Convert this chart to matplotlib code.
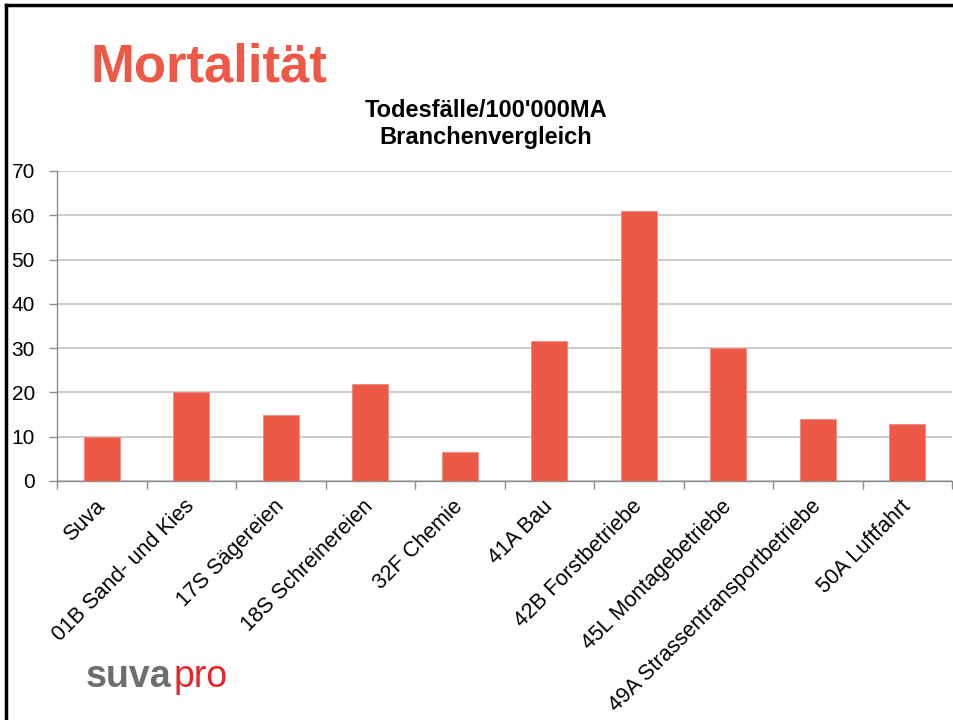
import matplotlib.pyplot as plt
from matplotlib.lines import Line2D
import numpy as np

plt.rcParams['font.family'] = ['Liberation Sans', 'DejaVu Sans']

categories = ["Suva", "01B Sand- und Kies", "17S Sägereien", "18S Schreinereien",
              "32F Chemie", "41A Bau", "42B Forstbetriebe", "45L Montagebetriebe",
              "49A Strassentransportbetriebe", "50A Luftfahrt"]
values = [10.0, 20.0, 14.8, 22.0, 6.6, 31.6, 60.9, 30.0, 13.9, 12.9]
yticks = [0, 10, 20, 30, 40, 50, 60, 70]

red = "#EE5846"
W, H = 954, 720

fig = plt.figure(figsize=(W / 100, H / 100), dpi=100)
ax = fig.add_axes([57 / W, 1 - 481 / H, (952 - 57) / W, (481 - 171) / H])

x = np.arange(len(categories))
ax.bar(x, values, width=0.4, color=red, edgecolor="#F28A7E", linewidth=0.6, zorder=3)

ax.set_xlim(-0.5, len(categories) - 0.5)
ax.set_ylim(0, 70)
ax.set_yticks(yticks)
ax.tick_params(axis="y", length=6, width=1, color="#8C8C8C", pad=10, labelsize=15)
ax.yaxis.grid(True, color="#C4C4C4", linewidth=1.2, zorder=0)

ax.set_xticks(x)
ax.set_xticklabels(categories, rotation=45, ha="right", va="center",
                   rotation_mode="anchor", fontsize=15.5)
ax.tick_params(axis="x", which="major", length=0, pad=16)
ax.set_xticks(np.arange(len(categories) + 1) - 0.5, minor=True)
ax.tick_params(axis="x", which="minor", length=6, width=1, color="#8C8C8C")

for s in ["top", "right"]:
    ax.spines[s].set_visible(False)
for s in ["left", "bottom"]:
    ax.spines[s].set_color("#8C8C8C")
    ax.spines[s].set_linewidth(1)

# slide text
fig.text(90 / W, 1 - 68 / H, "Mortalität", color=red, fontsize=38,
         fontweight="bold", ha="left", va="center")
fig.text(486 / W, 1 - 124 / H, "Todesfälle/100'000MA\nBranchenvergleich",
         fontsize=17, fontweight="bold", ha="center", va="center", linespacing=1.2)

# logo
t1 = fig.text(86 / W, 1 - 687 / H, "suva", color="#6D6E70", fontsize=27,
              fontweight="bold", ha="left", va="baseline")
fig.canvas.draw()
bb = t1.get_window_extent()
fig.text(bb.x1 / W + 0.002, 1 - 687 / H, "pro", color="#E8262A", fontsize=27,
         ha="left", va="baseline")

# slide frame
fig.add_artist(Line2D([6 / W, 6 / W], [0, 1 - 5 / H], color="black", linewidth=2.5))
fig.add_artist(Line2D([6 / W, 1], [1 - 5 / H, 1 - 5 / H], color="black", linewidth=2.5))

fig.savefig("out.png", dpi=100)
